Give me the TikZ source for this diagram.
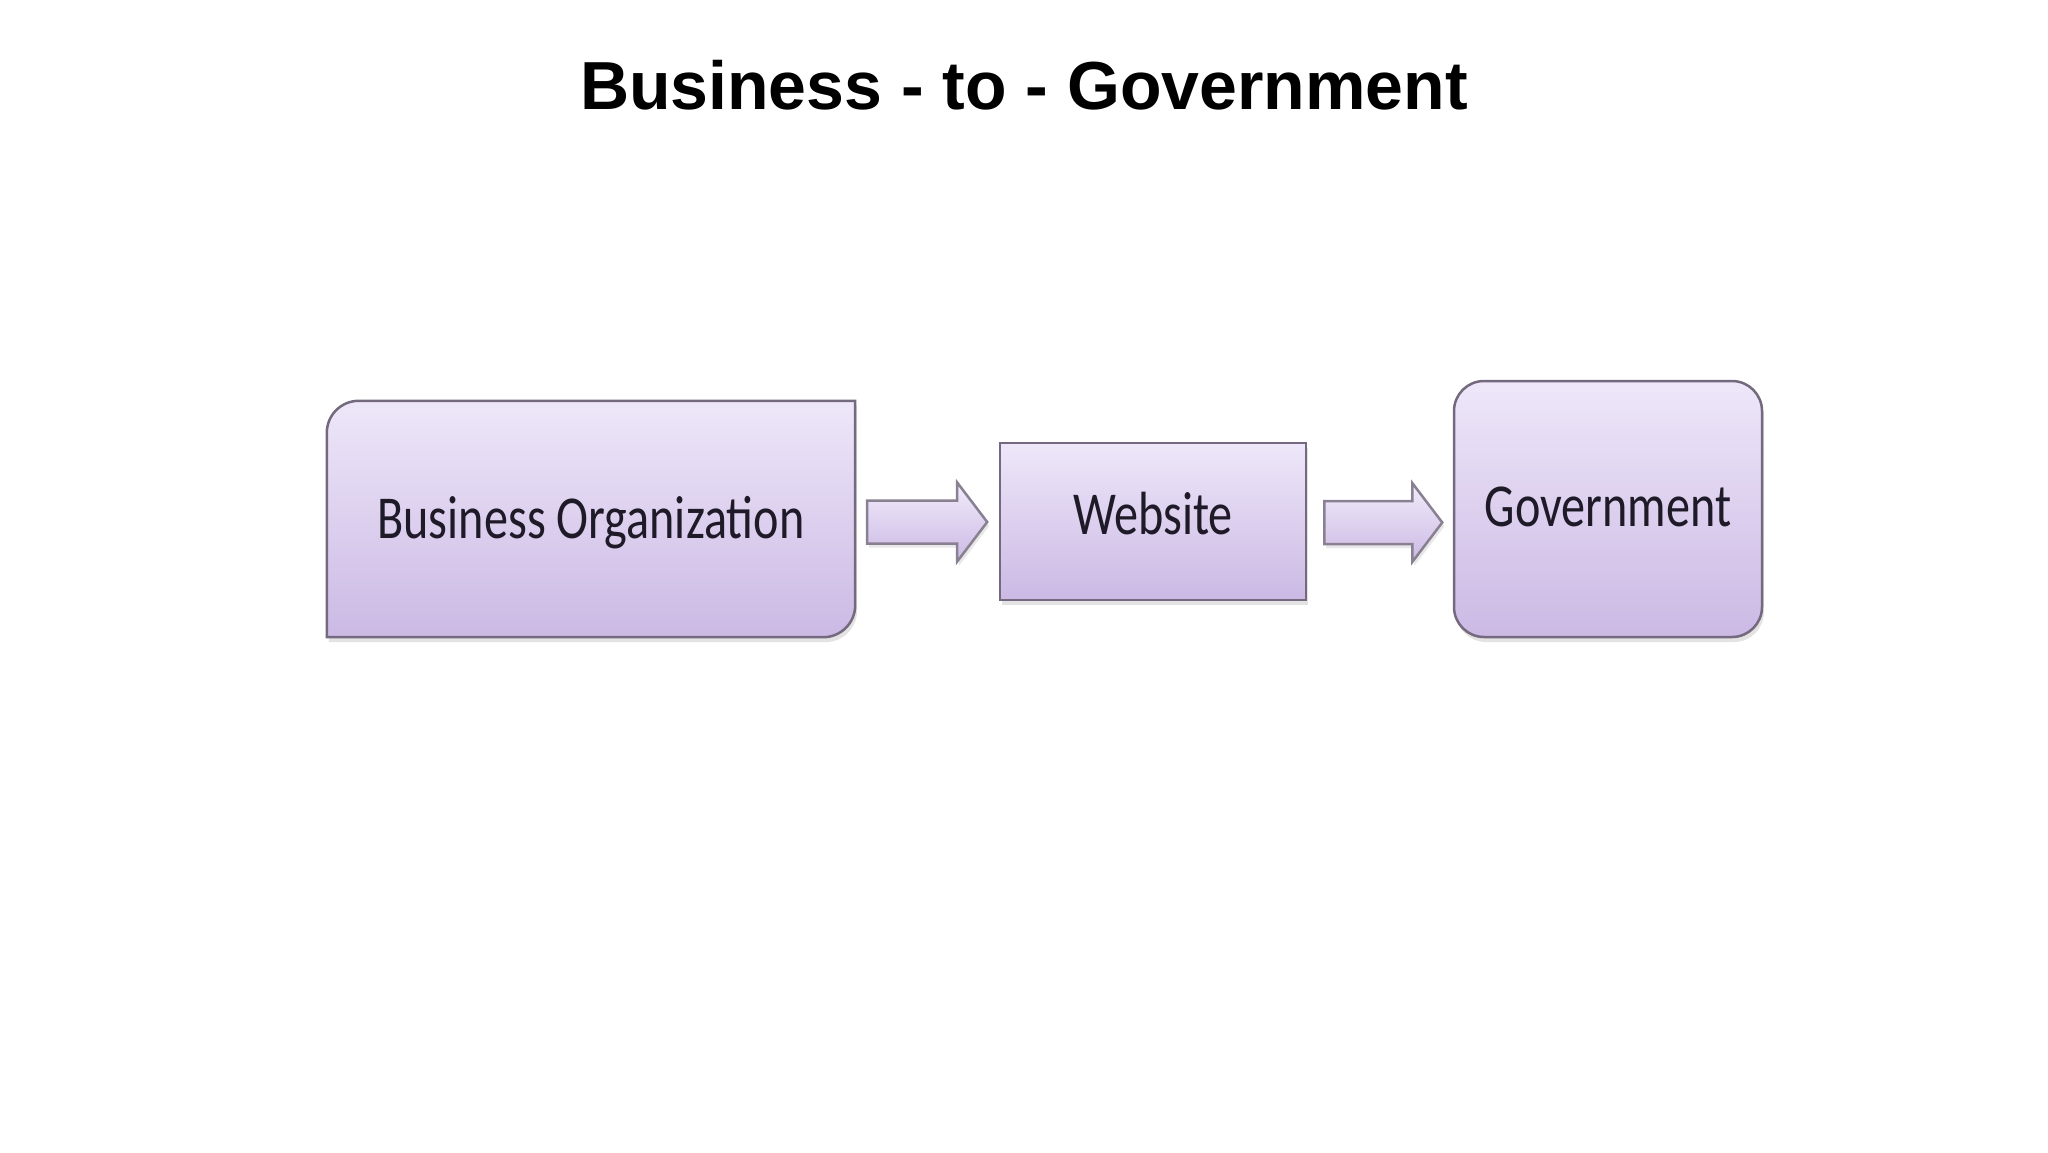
\documentclass[tikz,border=0pt]{standalone}
\usepackage{fontspec}
\setmainfont{Liberation Sans}
\newfontfamily\calib{Carlito}
\usetikzlibrary{calc,shadows,backgrounds}
\definecolor{topc}{HTML}{EEE7F9}
\definecolor{botc}{HTML}{CBB9E4}
\definecolor{edgec}{HTML}{74697F}
\definecolor{txtc}{HTML}{1E1A28}
\newcommand{\cond}[1]{\scalebox{0.79}[1]{#1}}
\begin{document}
\begin{tikzpicture}[x=1pt,y=-1pt,
  boxfill/.style={top color=topc,bottom color=botc,draw=edgec,line width=2.5pt,
    drop shadow={shadow xshift=2pt,shadow yshift=-5pt,opacity=.22}},
  arrowfill/.style={top color=topc!80!white,bottom color=botc,draw=edgec!85!white,line width=2.5pt,line join=miter,
    drop shadow={shadow xshift=2pt,shadow yshift=-4pt,opacity=.18}},
  lbl/.style={font=\calib\fontsize{61}{64}\selectfont,text=txtc,text height=39pt,text depth=0pt,inner sep=0pt,align=center},
  titlestyle/.style={font=\bfseries\fontsize{68}{78}\selectfont,text=black,inner sep=0pt,text height=49pt,text depth=0pt}
]
\useasboundingbox (0,0) rectangle (2048,1152);

\node[titlestyle] (title) at (1024,85) {Business - to - Government};

% Business Organization (shape drawn behind)
\node[lbl,minimum width=528pt,minimum height=236pt] (bo) at (591,519) {\cond{Business Organization}};
\begin{scope}[on background layer]
\fill[white] (0,0) rectangle (2048,1152);
\draw[boxfill] (bo.north east) -- ($(bo.south east)+(0,-32)$)
  .. controls ($(bo.south east)+(0,-14.3)$) and ($(bo.south east)+(-14.3,0)$) .. ($(bo.south east)+(-32,0)$)
  -- (bo.south west) -- ($(bo.north west)+(0,32)$)
  .. controls ($(bo.north west)+(0,14.3)$) and ($(bo.north west)+(14.3,0)$) .. ($(bo.north west)+(32,0)$)
  -- cycle;
\end{scope}

% Website
\node[lbl,boxfill,text depth=13pt,minimum width=306pt,minimum height=157pt] (web) at (1153,521.5) {\cond{Website}};

% Government
\node[lbl,boxfill,text depth=4pt,rounded corners=30pt,minimum width=308pt,minimum height=256pt] (gov) at (1608,509) {\cond{Government}};

% Block arrows
\coordinate (a1t) at ($(bo.east)+(12,3)$);
\coordinate (a1h) at ($(a1t)+(120,0)$);
\draw[arrowfill] ($(a1t)+(0,-21.5)$) -- ++(90,0) -- ++(0,-18) -- (a1h) -- ++(-30,39.5) -- ++(0,-18) -- ++(-90,0) -- cycle;

\coordinate (a2t) at ($(web.east)+(17,1)$);
\coordinate (a2h) at ($(a2t)+(118,0)$);
\draw[arrowfill] ($(a2t)+(0,-21.5)$) -- ++(88,0) -- ++(0,-18) -- (a2h) -- ++(-30,39.5) -- ++(0,-18) -- ++(-88,0) -- cycle;
\end{tikzpicture}
\end{document}
